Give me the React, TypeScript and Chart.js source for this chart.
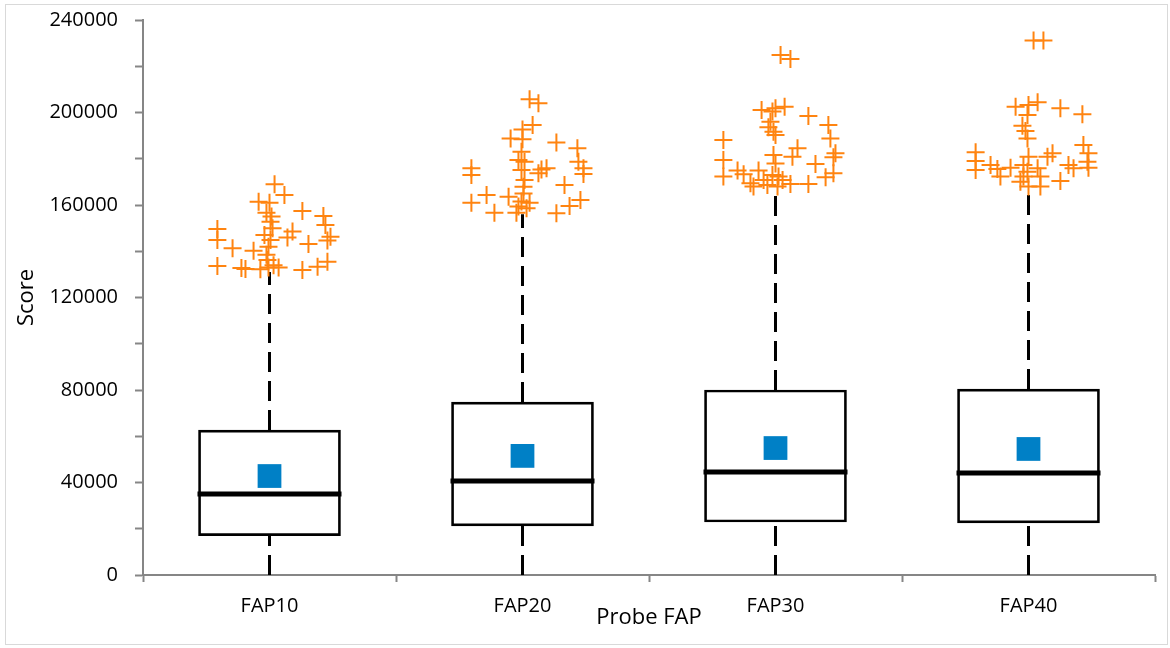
import { useEffect, useRef } from 'react';
import { Chart, registerables } from 'chart.js';

Chart.register(...registerables);

const categories = ['FAP10', 'FAP20', 'FAP30', 'FAP40'];
const q1 = [17000, 21200, 22900, 22500];
const q3 = [62700, 74800, 80000, 80400];
const medians = [35000, 40600, 44500, 44100];
const means = [42800, 51500, 54900, 54500];
const whiskerLow = [0, 0, 0, 0];
const whiskerHigh = [131000, 156000, 167000, 167500];

// outliers: jitter (fraction of category width) and score
const out10Jitter = [0.02, 0.059, -0.043, 0, 0.13, 0.213, -0.012, 0.008, 0.004, -0.206, 0.221, 0.091, 0.071, 0.241, -0.206, 0.004, 0.154, -0.146, -0.063, -0.004, 0.229, -0.206, -0.095, -0.111, -0.036, -0.004, 0.036, 0.13, 0.19, 0.229, -0.008, -0.012, 0.016, -0.02, 0.012];
const out10Score = [169000, 164300, 161400, 161000, 157400, 155200, 156700, 155000, 152800, 149600, 151400, 148500, 146000, 146300, 144900, 144900, 143100, 141300, 140200, 142000, 144600, 133600, 132300, 132800, 132200, 133000, 133000, 131900, 133300, 135500, 136200, 138500, 134000, 147000, 150000];

const out20Jitter = [0.028, 0.063, 0.04, 0, -0.047, 0, 0.134, 0.217, -0.004, -0.016, 0.008, 0.221, -0.202, 0.075, 0.095, 0.241, -0.004, -0.202, 0.241, 0.063, 0.008, 0.004, 0.166, -0.142, -0.055, -0.202, -0.004, 0.028, 0.229, 0.186, -0.111, -0.016, 0.016, 0.134, -0.024, 0.004];
const out20Score = [205700, 204000, 194600, 192700, 188800, 188400, 187000, 184500, 183000, 179500, 178700, 178700, 175900, 175400, 175900, 175900, 175100, 173000, 173400, 173700, 170800, 167900, 168600, 164300, 163600, 161000, 161500, 161000, 162200, 159600, 156700, 159300, 158600, 156400, 156700, 165000];

const out30Jitter = [0.02, 0.059, -0.055, 0, 0.036, -0.012, 0.13, 0.209, -0.02, -0.028, -0.008, 0, 0.217, -0.206, 0.087, 0.237, -0.008, 0.067, -0.206, 0.229, 0.158, 0, -0.15, -0.067, 0.229, -0.206, -0.012, 0.012, 0.198, -0.099, -0.126, -0.087, 0.13, 0.059, -0.032, 0.008, -0.047, 0.028];
const out30Score = [224900, 223100, 201100, 201800, 202500, 200400, 198500, 194600, 196000, 193600, 191700, 190300, 188800, 188100, 184500, 182400, 181600, 180900, 179500, 180600, 177700, 178000, 174900, 174900, 173700, 172300, 173000, 172300, 172000, 169400, 173300, 168000, 169100, 169100, 168600, 168000, 170800, 170800];

const out40Jitter = [0.02, 0.059, -0.051, 0, 0.036, 0.126, 0.213, -0.004, -0.024, -0.012, -0.004, 0.217, -0.209, 0.237, 0.095, 0.075, 0, -0.209, -0.15, 0.158, 0.233, -0.071, -0.02, -0.209, -0.123, 0.178, 0.237, -0.004, 0.036, -0.111, 0.047, 0.126, -0.032, 0, 0.047, -0.02];
const out40Score = [231100, 231100, 202500, 203200, 204400, 201800, 199200, 198900, 194300, 192000, 188800, 186000, 182800, 182400, 182400, 180900, 180900, 179000, 177300, 177300, 178700, 176100, 177300, 175100, 175600, 175900, 176100, 174400, 175900, 172300, 172300, 170400, 170100, 168000, 168000, 172300];

const outJitters = [out10Jitter, out20Jitter, out30Jitter, out40Jitter];
const outScores = [out10Score, out20Score, out30Score, out40Score];

const FONT = "'Open Sans', 'Liberation Sans', sans-serif";

const framePlugin = {
  id: 'frame',
  beforeDraw(chart: any) {
    const ctx = chart.ctx;
    ctx.save();
    ctx.fillStyle = '#ffffff';
    ctx.fillRect(0, 0, chart.width, chart.height);
    ctx.strokeStyle = '#d9d9d9';
    ctx.lineWidth = 1;
    ctx.strokeRect(5.5, 4.5, chart.width - 8, chart.height - 8);
    ctx.restore();
  },
};

export default function App() {
  const ref = useRef<HTMLCanvasElement | null>(null);

  useEffect(() => {
    if (!ref.current) return;
    const pos = categories.map((_, i) => i + 1);

    const whiskerSets = pos.map((p, i) => ({
      type: 'line' as const,
      data: [
        { x: p, y: whiskerLow[i] },
        { x: p, y: q1[i] },
        { x: p, y: null },
        { x: p, y: q3[i] },
        { x: p, y: whiskerHigh[i] },
      ],
      borderColor: '#000000',
      borderWidth: 3,
      borderDash: [20, 9],
      pointRadius: 0,
      showLine: true,
      spanGaps: false,
      fill: false,
      order: 5,
    }));

    const outlierData: { x: number; y: number }[] = [];
    outScores.forEach((arr, i) => {
      arr.forEach((v, j) => outlierData.push({ x: pos[i] + outJitters[i][j], y: v }));
    });

    const chart = new Chart(ref.current, {
      type: 'scatter',
      data: {
        datasets: [
          ...whiskerSets,
          {
            type: 'bar' as const,
            data: pos.map((p, i) => ({ x: p, y: [q1[i], q3[i]] })),
            backgroundColor: '#ffffff',
            borderColor: '#000000',
            borderWidth: 2.7,
            borderSkipped: false,
            barThickness: 142,
            order: 4,
          } as any,
          {
            type: 'scatter' as const,
            data: pos.map((p, i) => ({ x: p, y: medians[i] })),
            pointStyle: 'line',
            pointRadius: 72,
            borderColor: '#000000',
            borderWidth: 5,
            order: 3,
          },
          {
            type: 'scatter' as const,
            data: pos.map((p, i) => ({ x: p, y: means[i] })),
            pointStyle: 'rect',
            pointRadius: 16.8,
            backgroundColor: '#0080c6',
            borderWidth: 0,
            order: 2,
          },
          {
            type: 'scatter' as const,
            data: outlierData,
            pointStyle: 'cross',
            pointRadius: 9,
            borderColor: '#ff8410',
            borderWidth: 2,
            clip: false,
            order: 1,
          } as any,
        ],
      },
      options: {
        responsive: false,
        animation: false,
        layout: { autoPadding: false, padding: { left: 0, top: 20, right: 15, bottom: 0 } },
        plugins: { legend: { display: false }, tooltip: { enabled: false } },
        scales: {
          x: {
            type: 'linear',
            min: 0.5,
            max: 4.5,
            offset: false,
            afterFit: (s: any) => { s.height = 73; s.paddingLeft = 0; s.paddingRight = 0; },
            ticks: {
              stepSize: 0.5,
              autoSkip: false,
              maxRotation: 0,
              padding: 12,
              color: '#000000',
              font: { family: FONT, size: 20 },
              callback: (v: any) => {
                const n = Number(v);
                return Number.isInteger(n) ? categories[n - 1] : '';
              },
            },
            grid: {
              offset: false,
              drawOnChartArea: false,
              tickLength: 7,
              tickWidth: 2,
              tickColor: (c: any) => (c.tick && Number.isInteger(c.tick.value) ? 'rgba(0,0,0,0)' : '#868686'),
            },
            border: { color: '#868686', width: 2 },
            title: {
              display: true,
              text: 'Probe FAP',
              color: '#000000',
              font: { family: FONT, size: 22 },
              padding: { top: 0, bottom: 17 },
            },
          },
          y: {
            type: 'linear',
            min: 0,
            max: 240000,
            afterFit: (s: any) => { s.width = 143; s.paddingTop = 0; s.paddingBottom = 0; },
            ticks: {
              stepSize: 20000,
              autoSkip: false,
              padding: 17,
              color: '#000000',
              font: { family: FONT, size: 20 },
              callback: (v: any) => (Number(v) % 40000 === 0 ? String(v) : ''),
            },
            grid: {
              drawOnChartArea: false,
              tickLength: 8,
              tickWidth: 2,
              tickColor: '#868686',
            },
            border: { color: '#868686', width: 2 },
            title: {
              display: true,
              text: 'Score',
              color: '#000000',
              font: { family: FONT, size: 22 },
              padding: { top: 14, bottom: 0 },
            },
          },
        },
      } as any,
      plugins: [framePlugin],
    });

    return () => chart.destroy();
  }, []);

  return (
    <div style={{ position: 'fixed', left: 0, top: 0, width: 1170, height: 648, background: '#fff' }}>
      <canvas ref={ref} width={1170} height={648} style={{ display: 'block' }} />
    </div>
  );
}
